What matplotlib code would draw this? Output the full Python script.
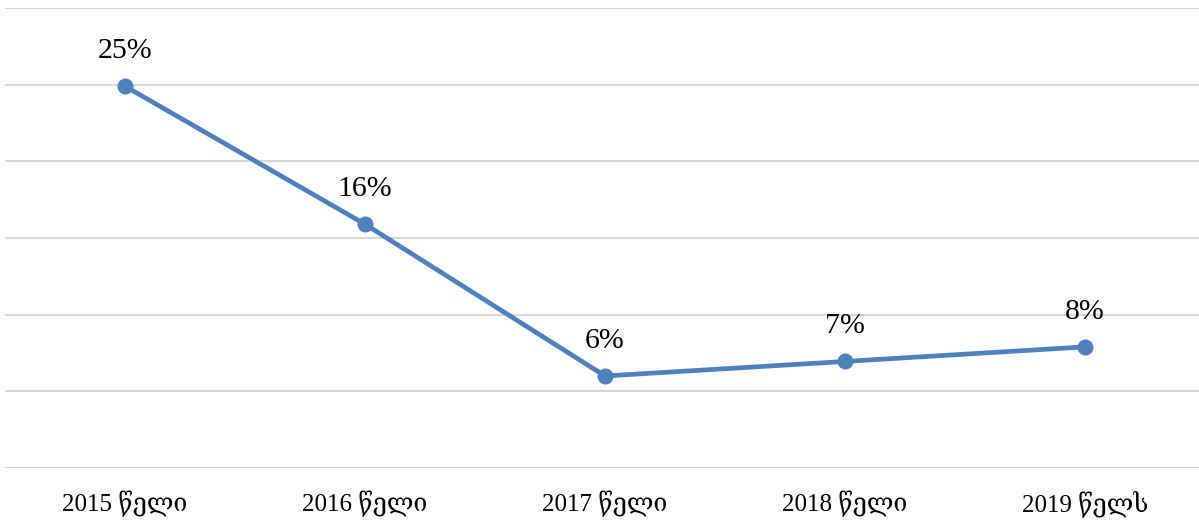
import matplotlib
matplotlib.use("Agg")
import matplotlib.pyplot as plt

categories = ["2015 წელი", "2016 წელი", "2017 წელი", "2018 წელი", "2019 წელს"]
values = [24.9, 15.9, 6.0, 6.95, 7.9]
labels = ["25%", "16%", "6%", "7%", "8%"]

plt.rcParams['font.family'] = ['Liberation Serif', 'DejaVu Serif', 'DejaVu Sans']

fig = plt.figure(figsize=(11.99, 5.25), dpi=100)
ax = fig.add_axes([5/1199, 1 - 468/525, 1 - 5/1199, 460/525])
x = list(range(len(categories)))
color = "#4F81BD"
ax.plot(x, values, color=color, lw=3.4, marker='o', ms=10.5, solid_capstyle='round', zorder=3)
for xi, v, lab in zip(x, values, labels):
    ax.annotate(lab, (xi, v), xytext=(0, 16), textcoords='offset points',
                ha='center', va='bottom', fontsize=21.5, color='black')
ax.set_ylim(0, 30)
ax.set_xlim(-0.5, -0.5 + 1194 / 240)
ax.set_yticks(range(0, 31, 5))
ax.yaxis.grid(True, color='#d9d9d9', lw=1.5)
ax.set_yticklabels([])
ax.tick_params(axis='y', length=0)
ax.tick_params(axis='x', length=0, pad=16, labelsize=18)
ax.set_xticks(x)
ax.set_xticklabels(categories)
for s in ax.spines.values():
    s.set_visible(False)
ax.set_axisbelow(True)
fig.savefig("out.png", dpi=100)
